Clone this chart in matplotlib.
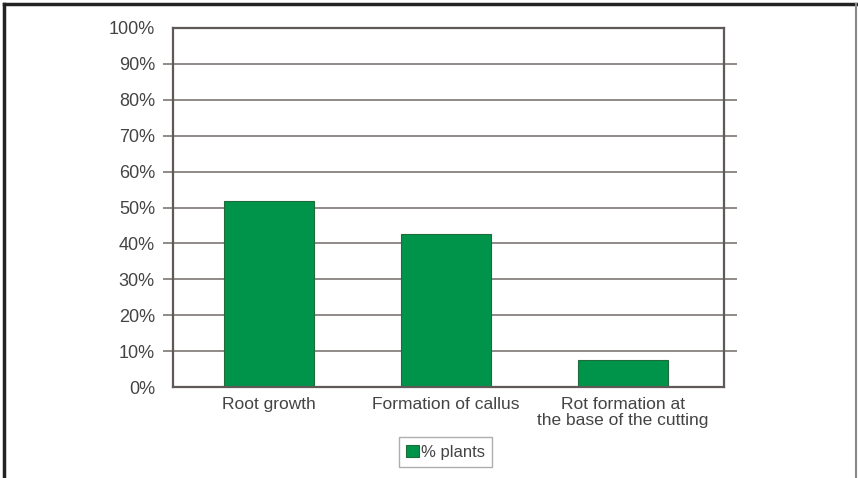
import matplotlib.pyplot as plt
from matplotlib.lines import Line2D

categories = ['Root growth', 'Formation of callus', 'Rot formation at\nthe base of the cutting']
values = [51.8, 42.6, 7.5]
yticks = [0, 10, 20, 30, 40, 50, 60, 70, 80, 90, 100]
ytick_labels = [f'{v}%' for v in yticks]

plt.rcParams['font.family'] = ['Liberation Sans', 'DejaVu Sans']

fig = plt.figure(figsize=(8.58, 4.78), dpi=100)
ax = fig.add_axes([173 / 858, 1 - 387 / 478, 551 / 858, 359 / 478])

# gridlines stick out a little past both sides of the plot box
for v in yticks[1:-1]:
    ax.axhline(v, xmin=-0.016, xmax=1.022, color='#8f8a88', lw=1.4, clip_on=False, zorder=1)

x = list(range(len(categories)))
ax.bar(x, values, width=0.51, color='#00944a', edgecolor='#1f6b3a', linewidth=0.8,
       label='% plants', zorder=2)

ax.set_xlim(-0.542, 2.571)
ax.set_ylim(0, 100)
ax.set_yticks(yticks)
ax.set_yticklabels(ytick_labels)
ax.set_xticks(x)
ax.set_xticklabels(categories, linespacing=1.12)
ax.tick_params(axis='y', length=0, pad=13, labelsize=13, labelcolor='#444444')
ax.tick_params(axis='x', length=0, pad=7, labelsize=12.5, labelcolor='#444444')
for s in ax.spines.values():
    s.set_color('#5f5a58')
    s.set_linewidth(1.6)

leg = ax.legend(loc='center', bbox_to_anchor=(445.5 / 858, 1 - 452 / 478),
                bbox_transform=fig.transFigure, fontsize=12, frameon=True,
                fancybox=False, handlelength=0.75, handleheight=0.75, handletextpad=0.1,
                borderpad=0.45, borderaxespad=0)
leg.get_frame().set_edgecolor('#9a9a9a')
leg.get_frame().set_linewidth(1.0)
for t in leg.get_texts():
    t.set_color('#444444')

# outer frame of the picture (no bottom edge)
fig.add_artist(Line2D([4 / 858, 4 / 858], [0, 1 - 4 / 478], color='#222222', lw=2.5))
fig.add_artist(Line2D([4 / 858, 856 / 858], [1 - 4 / 478, 1 - 4 / 478], color='#222222', lw=2.5))
fig.add_artist(Line2D([856 / 858, 856 / 858], [0, 1 - 4 / 478], color='#888888', lw=1.5))

fig.savefig('out.png', dpi=100)
